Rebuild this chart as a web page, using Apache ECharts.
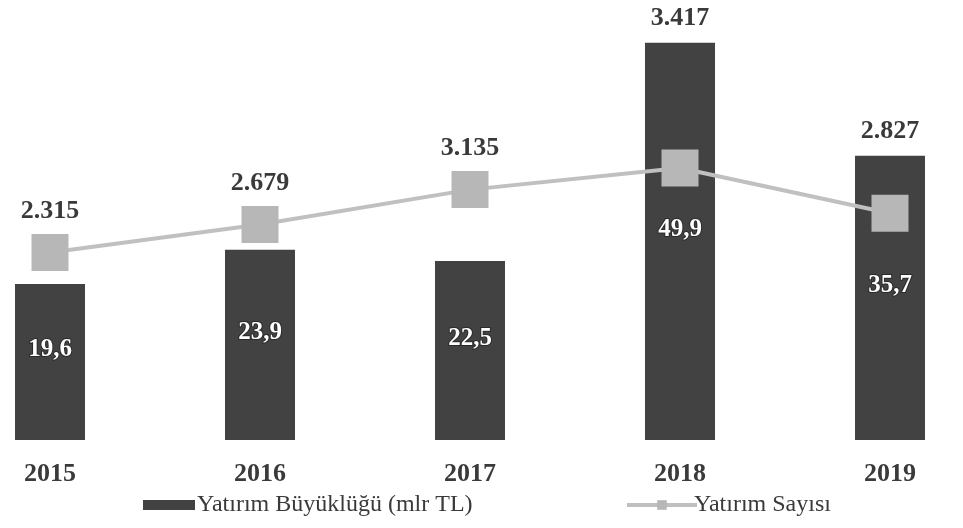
<!DOCTYPE html>
<html>
<head>
<meta charset="utf-8">
<script src="https://cdn.jsdelivr.net/npm/echarts@6/dist/echarts.min.js"></script>
<style>html,body{margin:0;padding:0;background:#fff;}#c{width:963px;height:528px;}</style>
</head>
<body>
<div id="c"></div>
<script>
const years = ['2015', '2016', '2017', '2018', '2019'];
const investmentSize = [19.6, 23.9, 22.5, 49.9, 35.7];   // Yatırım Büyüklüğü (mlr TL)
const investmentCount = [2315, 2679, 3135, 3417, 2827];  // Yatırım Sayısı
const sizeName = 'Yatırım Büyüklüğü (mlr TL)';
const countName = 'Yatırım Sayısı';

const AX1 = {min: 0, max: 50};
const AX2 = {min: -130, max: 5060};

function fmtCount(v) { return String(v).replace(/\B(?=(\d{3})+(?!\d))/g, '.'); }
function fmtSize(v) { return String(v).replace('.', ','); }

// whichever mark is higher gets the count label
const labelOnBar = investmentSize.map((s, i) =>
  (s - AX1.min) / (AX1.max - AX1.min) > (investmentCount[i] - AX2.min) / (AX2.max - AX2.min));

const FONT = '"Liberation Serif", "DejaVu Serif", serif';
const topLabel = {fontFamily: FONT, fontWeight: 'bold', fontSize: 26, color: '#3a3a3a'};

const chart = echarts.init(document.getElementById('c'));
chart.setOption({
  animation: false,
  backgroundColor: '#ffffff',
  grid: {left: 50, right: 73, top: 42, bottom: 88, containLabel: false},
  legend: [
    {data: [{name: sizeName, icon: 'rect'}], left: 138, top: 488, itemWidth: 52, itemHeight: 10, itemGap: 0,
     textStyle: {fontFamily: FONT, fontSize: 24, color: '#3a3a3a', padding: [0, 0, 0, -3]}},
    {data: [countName], left: 620, top: 488, itemWidth: 70, itemHeight: 12, itemGap: 0,
     lineStyle: {width: 4, color: '#c0c0c0'},
     textStyle: {fontFamily: FONT, fontSize: 24, color: '#3a3a3a', padding: [0, 0, 0, -8]}}
  ],
  xAxis: {
    type: 'category', data: years, boundaryGap: false,
    axisLine: {show: false}, axisTick: {show: false}, splitLine: {show: false},
    axisLabel: {fontFamily: FONT, fontWeight: 'bold', fontSize: 26, color: '#3a3a3a', margin: 21}
  },
  yAxis: [
    {type: 'value', min: AX1.min, max: AX1.max, show: false, splitLine: {show: false}},
    {type: 'value', min: AX2.min, max: AX2.max, show: false, splitLine: {show: false}}
  ],
  series: [
    {
      name: sizeName, type: 'bar', yAxisIndex: 0, data: investmentSize, barWidth: 70,
      itemStyle: {color: '#424242'},
      label: {show: true, position: 'inside', offset: [0, -12], formatter: p => fmtSize(p.value),
              fontFamily: FONT, fontWeight: 'bold', fontSize: 25, color: '#ffffff',
              textBorderColor: '#2a2a2a', textBorderWidth: 2}
    },
    {
      name: 'countOnBar', type: 'bar', yAxisIndex: 0, barGap: '-100%', barWidth: 70,
      data: investmentSize.map((v, i) => ({
        value: v,
        label: {show: labelOnBar[i], formatter: () => fmtCount(investmentCount[i])}
      })),
      itemStyle: {color: 'rgba(0,0,0,0)'}, silent: true,
      label: Object.assign({position: 'top', distance: 12}, topLabel),
      z: 5
    },
    {
      name: countName, type: 'line', yAxisIndex: 1,
      data: investmentCount.map((v, i) => ({value: v, label: {show: !labelOnBar[i]}})),
      symbol: 'rect', symbolSize: 37,
      lineStyle: {color: '#c0c0c0', width: 4},
      itemStyle: {color: '#b7b7b7'},
      label: Object.assign({position: 'top', distance: 10, formatter: p => fmtCount(p.value)}, topLabel),
      z: 10
    }
  ]
});
</script>
</body>
</html>
